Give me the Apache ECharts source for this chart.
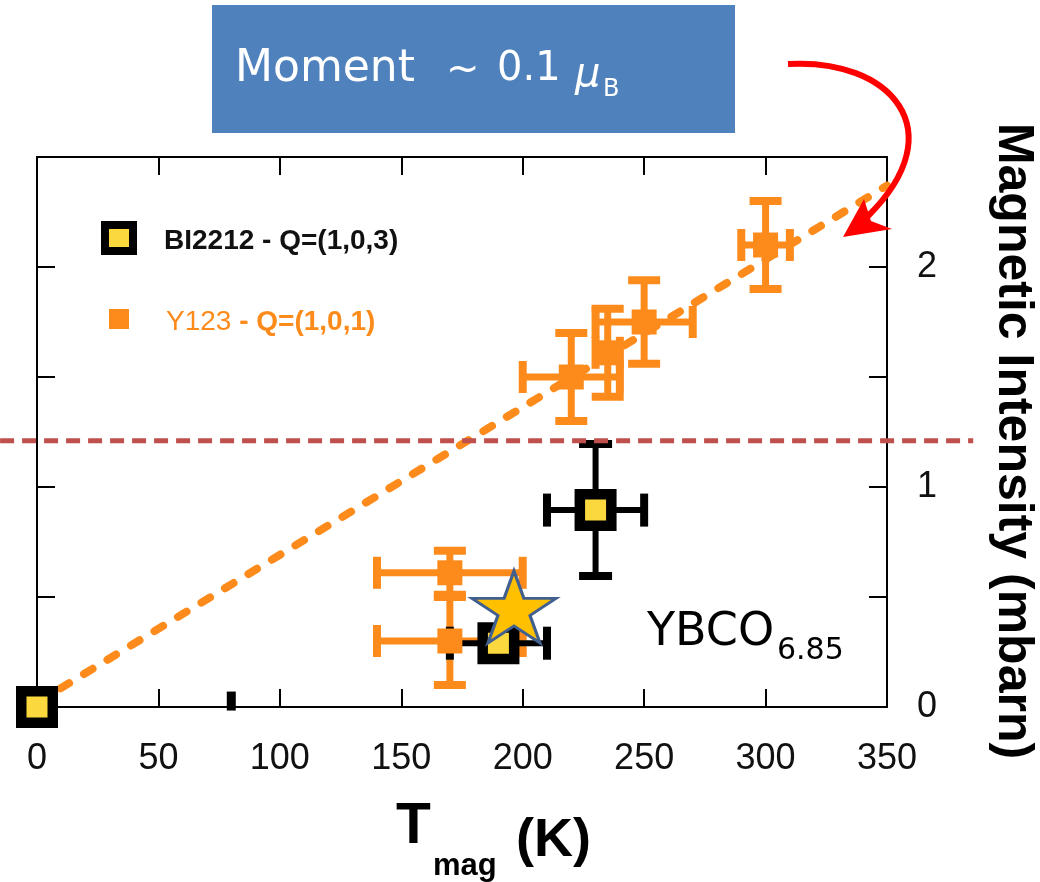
<!DOCTYPE html>
<html>
<head>
<meta charset="utf-8">
<script src="https://cdn.jsdelivr.net/npm/echarts@6/dist/echarts.min.js"></script>
<style>
html,body{margin:0;padding:0;background:#fff;}
#chart{width:1040px;height:882px;}
</style>
</head>
<body>
<div id="chart"></div>
<script>
// ---- data ----
const xTicks = [0, 50, 100, 150, 200, 250, 300, 350];
const yTickLabels = [0, 1, 2];

// Y123 - Q=(1,0,1): T_mag (K), intensity (mbarn), errors
const y123T  = [300, 250, 235, 220, 170, 170];
const y123I  = [2.10, 1.75, 1.61, 1.50, 0.61, 0.30];
const y123dT = [10, 20, 5, 20, 30, 30];
const y123dI = [0.20, 0.19, 0.20, 0.20, 0.10, 0.20];

// Bi2212 - Q=(1,0,3)
const biT  = [0, 190, 230];
const biI  = [0, 0.29, 0.895];
const bidT = [0, 20, 20];
const bidI = [0, 0.04, 0.30];

// Bi2212 null measurement (small bar)
const biNullT = [80];
const biNullI = [0.027];

// YBCO6.85 star
const starT = [196.4];
const starI = [0.455];

// dashed linear guide
const fitT = [0, 350];
const fitI = [0.02, 2.37];

// sensitivity threshold (horizontal dashed line)
const thresholdI = 1.21;
const thresholdSpanT = [-15.2, 385.5];

// ---- chart ----
const ORANGE = '#fd8b1c';
const YELLOW = '#fcd83f';

function pairs(a, b) { return a.map((v, i) => [v, b[i]]); }
function quads(a, b, c, d) { return a.map((v, i) => [v, b[i], c[i], d[i]]); }

function makeErr(color, lw, capLen, capW) {
  return function (params, api) {
    const x = api.value(0), y = api.value(1), dx = api.value(2), dy = api.value(3);
    const children = [];
    const st = { stroke: color, lineWidth: lw };
    const cs = { stroke: color, lineWidth: capW };
    if (dx > 0) {
      const l = api.coord([x - dx, y]), r = api.coord([x + dx, y]);
      children.push({ type: 'line', shape: { x1: l[0], y1: l[1], x2: r[0], y2: r[1] }, style: st });
      children.push({ type: 'line', shape: { x1: l[0], y1: l[1] - capLen / 2, x2: l[0], y2: l[1] + capLen / 2 }, style: cs });
      children.push({ type: 'line', shape: { x1: r[0], y1: r[1] - capLen / 2, x2: r[0], y2: r[1] + capLen / 2 }, style: cs });
    }
    if (dy > 0) {
      const t = api.coord([x, y + dy]), b = api.coord([x, y - dy]);
      children.push({ type: 'line', shape: { x1: t[0], y1: t[1], x2: b[0], y2: b[1] }, style: st });
      children.push({ type: 'line', shape: { x1: t[0] - capLen / 2, y1: t[1], x2: t[0] + capLen / 2, y2: t[1] }, style: cs });
      children.push({ type: 'line', shape: { x1: b[0] - capLen / 2, y1: b[1], x2: b[0] + capLen / 2, y2: b[1] }, style: cs });
    }
    return { type: 'group', children: children };
  };
}

const STAR = 'path://M0,-1 L0.2245,-0.309 L0.951,-0.309 L0.3633,0.118 L0.5878,0.809 L0,0.382 L-0.5878,0.809 L-0.3633,0.118 L-0.951,-0.309 L-0.2245,-0.309 Z';

const axisLineStyle = { color: '#000', width: 2 };
const tickCommon = { show: true, inside: true, length: 18, lineStyle: { color: '#000', width: 2 } };
const FONT = 'Liberation Sans, Arial, sans-serif';

const chart = echarts.init(document.getElementById('chart'), null, { renderer: 'canvas' });

const option = {
  animation: false,
  backgroundColor: '#fff',
  grid: { left: 37, right: 153, top: 157, bottom: 175, containLabel: false },
  xAxis: [
    {
      type: 'value', position: 'bottom', min: xTicks[0], max: xTicks[xTicks.length - 1], interval: 50,
      axisLine: { show: true, lineStyle: axisLineStyle },
      axisTick: tickCommon,
      axisLabel: { show: true, fontSize: 36, color: '#111', margin: 34, fontFamily: FONT },
      splitLine: { show: false }
    },
    {
      type: 'value', position: 'top', min: xTicks[0], max: xTicks[xTicks.length - 1], interval: 50,
      axisLine: { show: true, onZero: false, lineStyle: axisLineStyle },
      axisTick: tickCommon,
      axisLabel: { show: false },
      splitLine: { show: false }
    }
  ],
  yAxis: [
    {
      type: 'value', position: 'left', min: 0, max: 2.5, interval: 0.5,
      axisLine: { show: true, onZero: false, lineStyle: axisLineStyle },
      axisTick: tickCommon,
      axisLabel: { show: false },
      splitLine: { show: false }
    },
    {
      type: 'value', position: 'right', min: 0, max: 2.5, interval: 0.5,
      axisLine: { show: true, onZero: false, lineStyle: axisLineStyle },
      axisTick: tickCommon,
      axisLabel: {
        show: true, fontSize: 36, color: '#111', margin: 30, fontFamily: FONT,
        formatter: function (v) { return yTickLabels.indexOf(v) >= 0 ? String(v) : ''; }
      },
      splitLine: { show: false }
    }
  ],
  legend: [
    {
      show: true, selectedMode: false, orient: 'vertical', left: 101, top: 221,
      itemWidth: 28, itemHeight: 26, padding: 0,
      data: [{ name: 'BI2212 - Q=(1,0,3)', icon: 'rect', itemStyle: { color: YELLOW, borderColor: '#000', borderWidth: 8, opacity: 1 } }],
      formatter: function (n) { return '{t|' + n + '}'; },
      textStyle: { rich: { t: { fontSize: 28, fontWeight: 'bold', color: '#111', fontFamily: FONT, padding: [6, 0, 0, 26] } } }
    },
    {
      show: true, selectedMode: false, orient: 'vertical', left: 109, top: 308,
      itemWidth: 20, itemHeight: 20, padding: 0,
      data: [{ name: 'Y123 - Q=(1,0,1)', icon: 'rect', itemStyle: { color: ORANGE, borderWidth: 0, opacity: 1 } }],
      formatter: function () { return '{a|Y123}{b| - Q=(1,0,1)}'; },
      textStyle: {
        rich: {
          a: { fontSize: 28, color: ORANGE, fontFamily: FONT, padding: [6, 0, 0, 32] },
          b: { fontSize: 28, fontWeight: 'bold', color: ORANGE, fontFamily: FONT, padding: [6, 0, 0, 0] }
        }
      }
    }
  ],
  series: [
    {
      name: 'guide', type: 'line', data: pairs(fitT, fitI), showSymbol: false, silent: true, z: 1,
      lineStyle: { color: ORANGE, width: 8, type: [10, 17.5], cap: 'round' }
    },
    {
      name: 'Y123 errors', type: 'custom', renderItem: makeErr(ORANGE, 7, 32, 8),
      data: quads(y123T, y123I, y123dT, y123dI), encode: { x: 0, y: 1 }, clip: false, z: 2, silent: true
    },
    {
      name: 'BI2212 errors', type: 'custom', renderItem: makeErr('#000', 6, 33, 8),
      data: quads(biT, biI, bidT, bidI), encode: { x: 0, y: 1 }, clip: false, z: 3, silent: true
    },
    {
      name: 'Y123 - Q=(1,0,1)', type: 'scatter', data: pairs(y123T, y123I), symbol: 'rect', symbolSize: 25,
      itemStyle: { color: ORANGE, opacity: 1 }, z: 4, clip: false
    },
    {
      name: 'BI2212 - Q=(1,0,3)', type: 'scatter', data: pairs(biT, biI), symbol: 'rect', symbolSize: 31.5,
      itemStyle: { color: YELLOW, borderColor: '#000', borderWidth: 10.5, opacity: 1 }, z: 5, clip: false
    },
    {
      name: 'BI2212 null', type: 'scatter', data: pairs(biNullT, biNullI), symbol: 'rect', symbolSize: [9, 19],
      itemStyle: { color: '#000', opacity: 1 }, z: 5, clip: false
    },
    {
      name: 'YBCO6.85', type: 'scatter', data: pairs(starT, starI), symbol: STAR, symbolSize: [84, 72],
      itemStyle: { color: '#ffc000', borderColor: '#41608f', borderWidth: 3, opacity: 1 }, z: 6, clip: false
    }
  ],
  graphic: [
    { type: 'rect', shape: { x: 212, y: 5, width: 523, height: 128 }, style: { fill: '#4f81bd' }, z: 10 },
    { type: 'text', x: 235, y: 70, z: 11, style: { text: 'Moment', fill: '#fff', fontSize: 44, fontFamily: 'DejaVu Sans', verticalAlign: 'middle' } },
    { type: 'text', x: 446, y: 72, z: 11, style: { text: '~', fill: '#fff', fontSize: 40, fontFamily: 'DejaVu Sans', verticalAlign: 'middle' } },
    { type: 'text', x: 497, y: 70, z: 11, style: { text: '0.1', fill: '#fff', fontSize: 40, fontFamily: 'DejaVu Sans', verticalAlign: 'middle' } },
    { type: 'text', x: 575, y: 76, z: 11, style: { text: 'μ', fill: '#fff', fontSize: 40, fontStyle: 'italic', fontFamily: 'DejaVu Sans', verticalAlign: 'middle' } },
    { type: 'text', x: 603, y: 90, z: 11, style: { text: 'B', fill: '#fff', fontSize: 24, fontFamily: 'DejaVu Sans', verticalAlign: 'middle' } },

    { type: 'bezierCurve', z: 11, shape: { x1: 788, y1: 64, cpx1: 890, cpy1: 58, cpx2: 955, cpy2: 130, x2: 868, y2: 216 },
      style: { stroke: '#ff0000', lineWidth: 6, fill: null } },
    { type: 'polygon', z: 11, shape: { points: [[843, 237], [864, 199], [871, 221], [892, 229]] }, style: { fill: '#ff0000' } },

    { type: 'text', x: 647, y: 633, z: 11, style: { text: 'YBCO', fill: '#000', fontSize: 46, fontFamily: 'DejaVu Sans', verticalAlign: 'middle' } },
    { type: 'text', x: 777, y: 651, z: 11, style: { text: '6.85', fill: '#000', fontSize: 30, fontFamily: 'DejaVu Sans', verticalAlign: 'middle' } },

    { type: 'text', x: 396, y: 827, z: 11, style: { text: 'T', fill: '#000', fontSize: 57, fontWeight: 'bold', fontFamily: FONT, verticalAlign: 'middle' } },
    { type: 'text', x: 433, y: 866, z: 11, style: { text: 'mag', fill: '#000', fontSize: 31, fontWeight: 'bold', fontFamily: FONT, verticalAlign: 'middle' } },
    { type: 'text', x: 516, y: 841, z: 11, style: { text: '(K)', fill: '#000', fontSize: 54, fontWeight: 'bold', fontFamily: FONT, verticalAlign: 'middle' } },

    { type: 'text', x: 1013, y: 441, rotation: -Math.PI / 2, z: 11,
      style: { text: 'Magnetic Intensity (mbarn)', fill: '#000', fontSize: 50, fontWeight: 'bold', fontFamily: FONT, align: 'center', verticalAlign: 'middle' } }
  ]
};

chart.setOption(option);

// threshold line: positioned through the chart's own scales, extending past the frame
const p0 = chart.convertToPixel({ xAxisIndex: 0, yAxisIndex: 0 }, [thresholdSpanT[0], thresholdI]);
const p1 = chart.convertToPixel({ xAxisIndex: 0, yAxisIndex: 0 }, [thresholdSpanT[1], thresholdI]);
chart.setOption({
  graphic: option.graphic.concat([{
    type: 'line', z: 12, silent: true,
    shape: { x1: p0[0], y1: p0[1], x2: p1[0], y2: p1[1] },
    style: { stroke: '#c0504d', lineWidth: 5, lineDash: [14, 8] }
  }])
});
</script>
</body>
</html>
